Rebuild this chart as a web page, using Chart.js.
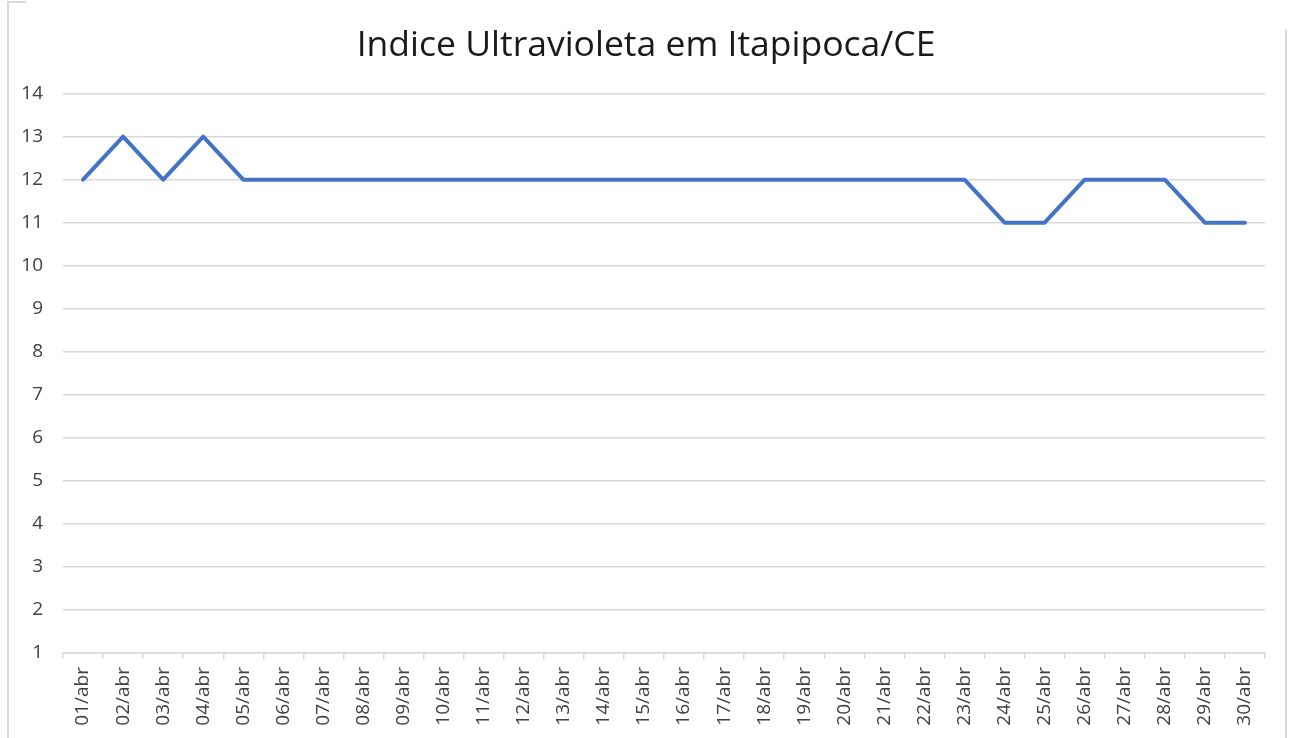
<!DOCTYPE html>
<html>
<head>
<meta charset="utf-8">
<script src="https://cdn.jsdelivr.net/npm/chart.js@4"></script>
<style>
    body { margin: 0; background: #fff; }
    #wrap { position: relative; width: 1292px; height: 738px; overflow: hidden; }
    .borda { position: absolute; background: #d9d9d9; }
</style>
</head>
<body>
<div id="wrap">
    <canvas id="graficoUV" width="1292" height="738"></canvas>
    <!-- restos da moldura do gráfico -->
    <div class="borda" style="left:7px; top:1px; width:2px; height:737px;"></div>
    <div class="borda" style="left:7px; top:1px; width:19px; height:2px;"></div>
    <div class="borda" style="left:1285px; top:29px; width:2px; height:709px;"></div>
</div>
<script>
// Dias do mês (eixo X)
const dias = [
    '01/abr', '02/abr', '03/abr', '04/abr', '05/abr', '06/abr', '07/abr', '08/abr', '09/abr', '10/abr',
    '11/abr', '12/abr', '13/abr', '14/abr', '15/abr', '16/abr', '17/abr', '18/abr', '19/abr', '20/abr',
    '21/abr', '22/abr', '23/abr', '24/abr', '25/abr', '26/abr', '27/abr', '28/abr', '29/abr', '30/abr'
];

// Índice UV diário
const indiceUV = [
    12, 13, 12, 13, 12, 12, 12, 12, 12, 12,
    12, 12, 12, 12, 12, 12, 12, 12, 12, 12,
    12, 12, 12, 11, 11, 12, 12, 12, 11, 11
];

const titulo = 'Indice Ultravioleta em Itapipoca/CE';
const fonte = "'Open Sans', sans-serif";

const ctx = document.getElementById('graficoUV').getContext('2d');

new Chart(ctx, {
    type: 'line',
    data: {
        labels: dias,
        datasets: [{
            label: 'Índice UV',
            data: indiceUV,
            borderColor: '#4472C4',
            backgroundColor: '#4472C4',
            borderWidth: 4,
            borderCapStyle: 'round',
            borderJoinStyle: 'round',
            pointRadius: 0,
            tension: 0
        }]
    },
    options: {
        responsive: false,
        animation: false,
        devicePixelRatio: 1,
        layout: {
            padding: 0
        },
        plugins: {
            legend: { display: false },
            tooltip: { enabled: false },
            title: {
                display: true,
                text: titulo,
                color: '#1a1a1a',
                font: { family: fonte, size: 35.5, weight: 'normal', lineHeight: 1.2 },
                padding: { top: 25, bottom: 26 }
            }
        },
        scales: {
            x: {
                offset: true,
                grid: {
                    offset: true,
                    drawOnChartArea: false,
                    drawTicks: true,
                    tickLength: 6,
                    color: '#d9d9d9',
                    lineWidth: 1.5
                },
                border: { display: true, color: '#d9d9d9', width: 1.5 },
                ticks: {
                    color: '#404040',
                    font: { family: fonte, size: 19 },
                    minRotation: 90,
                    maxRotation: 90,
                    autoSkip: false,
                    padding: 8
                },
                afterFit: function(scale) {
                    scale.height = 85;
                }
            },
            y: {
                min: 1,
                max: 14,
                grid: {
                    drawTicks: false,
                    color: '#d9d9d9',
                    lineWidth: 1.5
                },
                border: { display: false },
                ticks: {
                    stepSize: 1,
                    color: '#404040',
                    font: { family: fonte, size: 19 },
                    padding: 20
                },
                afterFit: function(scale) {
                    scale.width = 63;
                }
            },
            // eixo vazio à direita, só para reservar a margem
            y2: {
                position: 'right',
                min: 1,
                max: 14,
                grid: { display: false },
                border: { display: false },
                ticks: { display: false },
                afterFit: function(scale) {
                    scale.width = 27;
                }
            }
        }
    }
});
</script>
</body>
</html>
